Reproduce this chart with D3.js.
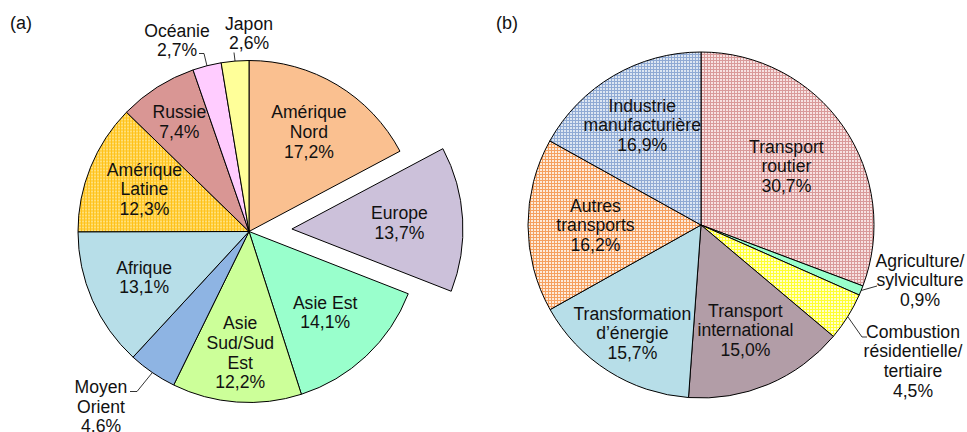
<!DOCTYPE html>
<html>
<head>
<meta charset="utf-8">
<script src="https://cdn.jsdelivr.net/npm/d3@7"></script>
<style>
  body { margin: 0; background: #fff; }
  text { font-family: "Liberation Sans", Arial, sans-serif; fill: #111; }
</style>
</head>
<body>
<script>
// (a) emissions by region
const regionsA = ["Amérique Nord", "Europe", "Asie Est", "Asie Sud/Sud Est", "Moyen Orient",
    "Afrique", "Amérique Latine", "Russie", "Océanie", "Japon"];
const valuesA = [17.2, 13.7, 14.1, 12.2, 4.6, 13.1, 12.3, 7.4, 2.7, 2.6];
const linesA = [["Amérique", "Nord"], ["Europe"], ["Asie Est"], ["Asie", "Sud/Sud", "Est"],
    ["Moyen", "Orient"], ["Afrique"], ["Amérique", "Latine"], ["Russie"], ["Océanie"], ["Japon"]];

// (b) emissions by sector
const sectorsB = ["Transport routier", "Agriculture/sylviculture", "Combustion résidentielle/tertiaire",
    "Transport international", "Transformation d'énergie", "Autres transports", "Industrie manufacturière"];
const valuesB = [30.7, 0.9, 4.5, 15.0, 15.7, 16.2, 16.9];
const linesB = [["Transport", "routier"], ["Agriculture/", "sylviculture"],
    ["Combustion", "résidentielle/", "tertiaire"], ["Transport", "international"],
    ["Transformation", "d’énergie"], ["Autres", "transports"], ["Industrie", "manufacturière"]];

const width = 967;
const height = 432;
const fontSize = 17.6;
const lineH = 19.6;

const svg = d3.select("body").append("svg")
    .attr("width", width)
    .attr("height", height);

svg.append("rect").attr("width", width).attr("height", height).attr("fill", "#fff");

// grid patterns (Excel-like fills)
const defs = svg.append("defs");
function gridPattern(id, base, line) {
    const p = defs.append("pattern")
        .attr("id", id)
        .attr("patternUnits", "userSpaceOnUse")
        .attr("width", 3)
        .attr("height", 3);
    p.append("rect").attr("width", 3).attr("height", 3).attr("fill", base);
    p.append("rect").attr("width", 3).attr("height", 1).attr("fill", line);
    p.append("rect").attr("width", 1).attr("height", 3).attr("fill", line);
    return "url(#" + id + ")";
}

const colorA = d3.scaleOrdinal().domain(regionsA).range([
    "#FAC090", "#CCC1DA", "#99FFCC", "#CCFF99", "#8EB4E3",
    "#B7DEE8", gridPattern("pLatine", "#FFE07A", "#FFC21A"), "#D99694", "#FFCCFF", "#FFFF99"
]);
const colorB = d3.scaleOrdinal().domain(sectorsB).range([
    gridPattern("pRoutier", "#F7E2E2", "#D99A9A"), "#99FFCC",
    gridPattern("pCombust", "#FFFFCC", "#FFFF33"), "#B29DA7", "#B7DEE8",
    gridPattern("pAutres", "#FDEBDC", "#F5A060"), gridPattern("pIndus", "#DDE6F2", "#90AAD4")
]);

const fmt = (v) => v.toFixed(1).replace(".", ",") + "%";
const polar = (a, r) => [Math.sin(a) * r, -Math.cos(a) * r];

// layout settings for labels (radius fraction for inner labels, offsets for outside ones)
const insideA = { "Amérique Nord": 0.68, "Europe": 0.63, "Asie Est": 0.65, "Asie Sud/Sud Est": 0.71,
    "Afrique": 0.67, "Amérique Latine": 0.66, "Russie": 0.76 };
const outsideA = {
    "Moyen Orient": { x: -148, y: 175, leader: [[-112, 160], [-119, 160]] },
    "Océanie": { x: -72, y: -191, leader: [[-45, -178], [-50, -178]] },
    "Japon": { x: 0, y: -198, leader: [[-15, -179]] }
};
const insideB = { "Transport routier": 0.6, "Transport international": 0.66, "Transformation d'énergie": 0.74,
    "Autres transports": 0.61, "Industrie manufacturière": 0.67 };
const outsideB = {
    "Agriculture/sylviculture": { x: 219, y: 55, leader: [[176, 61]] },
    "Combustion résidentielle/tertiaire": { x: 212, y: 136, leader: [[161, 112], [166, 112]] }
};

function drawLabel(g, cx, cy, lines) {
    const t = g.append("text").attr("text-anchor", "middle").attr("font-size", fontSize);
    const y0 = cy - (lines.length - 1) / 2 * lineH + fontSize * 0.35;
    lines.forEach((s, i) => {
        t.append("tspan").attr("x", cx).attr("y", y0 + i * lineH).text(s);
    });
}

function drawPie(opts) {
    const data = opts.names.map((n, i) => ({ name: n, value: opts.values[i], lines: opts.lines[i] }));
    const pie = d3.pie().sort(null).value((d) => d.value);
    const arcs = pie(data);
    const r = opts.radius;
    const arc = d3.arc().innerRadius(0).outerRadius(r);

    const g = svg.append("g").attr("transform", `translate(${opts.cx},${opts.cy})`);

    arcs.forEach((a) => {
        const mid = (a.startAngle + a.endAngle) / 2;
        const off = a.data.name === opts.explode ? polar(mid, opts.explodeBy) : [0, 0];
        const sg = g.append("g").attr("transform", `translate(${off[0]},${off[1]})`);
        sg.append("path")
            .attr("d", arc(a))
            .attr("fill", opts.color(a.data.name))
            .attr("stroke", "#000")
            .attr("stroke-width", 1)
            .attr("stroke-linejoin", "round");
    });

    arcs.forEach((a) => {
        const mid = (a.startAngle + a.endAngle) / 2;
        const off = a.data.name === opts.explode ? polar(mid, opts.explodeBy) : [0, 0];
        const lines = a.data.lines.concat([fmt(a.data.value)]);
        if (opts.inside[a.data.name] !== undefined) {
            const p = polar(mid, r * opts.inside[a.data.name]);
            drawLabel(g, p[0] + off[0], p[1] + off[1], lines);
        } else {
            const o = opts.outside[a.data.name];
            const pts = [polar(mid, r)].concat(o.leader);
            g.append("path")
                .attr("d", d3.line()(pts))
                .attr("fill", "none")
                .attr("stroke", "#000")
                .attr("stroke-width", 0.8);
            drawLabel(g, o.x, o.y, lines);
        }
    });
}

drawPie({ names: regionsA, values: valuesA, lines: linesA, cx: 249, cy: 231.5, radius: 171,
    color: colorA, explode: "Europe", explodeBy: 43, inside: insideA, outside: outsideA });

drawPie({ names: sectorsB, values: valuesB, lines: linesB, cx: 701, cy: 225, radius: 173,
    color: colorB, explode: null, explodeBy: 0, inside: insideB, outside: outsideB });

svg.append("text").attr("x", 10).attr("y", 29).attr("font-size", 18).text("(a)");
svg.append("text").attr("x", 496).attr("y", 29).attr("font-size", 18).text("(b)");
</script>
</body>
</html>
